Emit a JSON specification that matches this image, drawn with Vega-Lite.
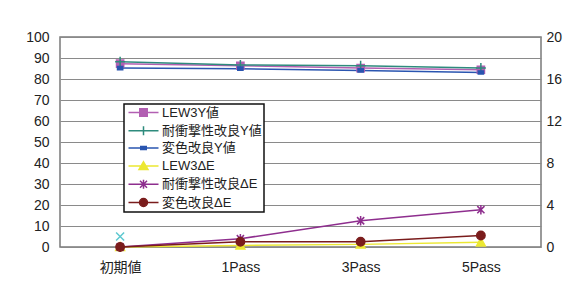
{
  "$schema": "https://vega.github.io/schema/vega-lite/v6.json",
  "width": 481,
  "height": 210,
  "autosize": {"type": "none"},
  "padding": {"left": 60, "top": 37, "right": 43, "bottom": 41},
  "background": "#ffffff",
  "config": {
    "font": "Liberation Sans, Noto Sans CJK JP",
    "view": {"stroke": "#7a7a7a", "strokeWidth": 1.5}
  },
  "data": {
    "values": [
      {"pass": "初期値", "series": "LEW3Y値", "axis": "L", "value": 87.3},
      {"pass": "1Pass", "series": "LEW3Y値", "axis": "L", "value": 86.3},
      {"pass": "3Pass", "series": "LEW3Y値", "axis": "L", "value": 85.2},
      {"pass": "5Pass", "series": "LEW3Y値", "axis": "L", "value": 84.4},
      {"pass": "初期値", "series": "耐衝撃性改良Y値", "axis": "L", "value": 88.2},
      {"pass": "1Pass", "series": "耐衝撃性改良Y値", "axis": "L", "value": 86.7},
      {"pass": "3Pass", "series": "耐衝撃性改良Y値", "axis": "L", "value": 86.3},
      {"pass": "5Pass", "series": "耐衝撃性改良Y値", "axis": "L", "value": 85.2},
      {"pass": "初期値", "series": "変色改良Y値", "axis": "L", "value": 85.2},
      {"pass": "1Pass", "series": "変色改良Y値", "axis": "L", "value": 84.9},
      {"pass": "3Pass", "series": "変色改良Y値", "axis": "L", "value": 84.1},
      {"pass": "5Pass", "series": "変色改良Y値", "axis": "L", "value": 83.1},
      {"pass": "初期値", "series": "LEW3ΔE", "axis": "R", "value": 0},
      {"pass": "1Pass", "series": "LEW3ΔE", "axis": "R", "value": 0.15},
      {"pass": "3Pass", "series": "LEW3ΔE", "axis": "R", "value": 0.25},
      {"pass": "5Pass", "series": "LEW3ΔE", "axis": "R", "value": 0.45},
      {"pass": "初期値", "series": "耐衝撃性改良ΔE", "axis": "R", "value": 0},
      {"pass": "1Pass", "series": "耐衝撃性改良ΔE", "axis": "R", "value": 0.79},
      {"pass": "3Pass", "series": "耐衝撃性改良ΔE", "axis": "R", "value": 2.5},
      {"pass": "5Pass", "series": "耐衝撃性改良ΔE", "axis": "R", "value": 3.55},
      {"pass": "初期値", "series": "変色改良ΔE", "axis": "R", "value": 0},
      {"pass": "1Pass", "series": "変色改良ΔE", "axis": "R", "value": 0.5},
      {"pass": "3Pass", "series": "変色改良ΔE", "axis": "R", "value": 0.5},
      {"pass": "5Pass", "series": "変色改良ΔE", "axis": "R", "value": 1.1},
      {"pass": "初期値", "series": "extra", "axis": "R", "value": 1.0}
    ]
  },
  "encoding": {
    "x": {
      "field": "pass",
      "type": "nominal",
      "sort": ["初期値", "1Pass", "3Pass", "5Pass"],
      "scale": {"type": "point", "padding": 0.5},
      "axis": {"title": null, "labelAngle": 0, "ticks": false, "domain": false, "grid": false, "labelFontSize": 14, "labelPadding": 13, "labelColor": "#222222"}
    },
    "color": {
      "field": "series",
      "type": "nominal",
      "scale": {
        "domain": ["LEW3Y値", "耐衝撃性改良Y値", "変色改良Y値", "LEW3ΔE", "耐衝撃性改良ΔE", "変色改良ΔE"],
        "range": ["#b25fb2", "#2e8b7d", "#2a55b0", "#ece832", "#8e2e8e", "#7a1c1c"]
      },
      "legend": {
        "orient": "none",
        "legendX": 64,
        "legendY": 67,
        "title": null,
        "strokeColor": "#111111",
        "fillColor": "#ffffff",
        "padding": 2,
        "rowPadding": 3.2,
        "symbolSize": 100,
        "symbolOffset": 11,
        "labelOffset": 12,
        "labelFont": "Liberation Sans, Noto Sans CJK JP",
        "labelFontSize": 13,
        "labelColor": "#222222",
        "symbolStrokeWidth": 1.5,
        "encode": {
          "legend": {"update": {"strokeWidth": {"value": 1.5}}},
          "symbols": {
            "update": {
              "shape": {"signal": "['M-3,0H3M-0.75,-0.75H0.75V0.75H-0.75Z','M-3,0H3M0,-0.9V0.9','M-3,0H3M-0.55,-0.3H0.55V0.3H-0.55Z','M-3,0H3M0,-0.85L0.9,0.7H-0.9Z','M-3,0H3M-0.7,-0.7L0.7,0.7M-0.7,0.7L0.7,-0.7M0,-0.9V0.9','M-3,0H3M-0.8,0A0.8,0.8 0 1,0 0.8,0A0.8,0.8 0 1,0 -0.8,0Z'][indexof(['LEW3Y値','耐衝撃性改良Y値','変色改良Y値','LEW3ΔE','耐衝撃性改良ΔE','変色改良ΔE'], datum.value)]"},
              "stroke": {"scale": "color", "field": "value"},
              "fill": {"scale": "color", "field": "value"},
              "strokeWidth": {"value": 1.5},
              "opacity": {"value": 1}
            }
          }
        }
      }
    }
  },
  "layer": [
    {
      "transform": [{"filter": "datum.axis === 'L'"}],
      "encoding": {
        "y": {
          "field": "value",
          "type": "quantitative",
          "scale": {"domain": [0, 100], "nice": false},
          "axis": {"orient": "left", "title": null, "values": [0, 10, 20, 30, 40, 50, 60, 70, 80, 90, 100], "grid": true, "gridColor": "#8a8a8a", "gridOpacity": 1, "gridWidth": 1, "ticks": false, "domain": false, "labelFontSize": 14, "labelPadding": 11, "labelColor": "#222222"}
        }
      },
      "layer": [
        {"mark": {"type": "line", "strokeWidth": 1.5}},
        {
          "transform": [{"filter": "datum.series === 'LEW3Y値'"}],
          "mark": {"type": "point", "filled": true, "size": 64, "opacity": 1, "strokeWidth": 1.5, "stroke": "#b25fb2", "shape": "M-0.9,-0.9H0.9V0.9H-0.9Z"}
        },
        {
          "transform": [{"filter": "datum.series === '耐衝撃性改良Y値'"}],
          "mark": {"type": "point", "filled": true, "size": 64, "opacity": 1, "strokeWidth": 1.5, "stroke": "#2e8b7d", "shape": "M0,-1.25V1.25M-1.25,0H1.25"}
        },
        {
          "transform": [{"filter": "datum.series === '変色改良Y値'"}],
          "mark": {"type": "point", "filled": true, "size": 64, "opacity": 1, "strokeWidth": 1.5, "stroke": "#2a55b0", "shape": "M-0.65,-0.4H0.65V0.4H-0.65Z"}
        }
      ]
    },
    {
      "transform": [{"filter": "datum.axis === 'R'"}],
      "encoding": {
        "y": {
          "field": "value",
          "type": "quantitative",
          "scale": {"domain": [0, 20], "nice": false},
          "axis": {"orient": "right", "title": null, "values": [0, 4, 8, 12, 16, 20], "grid": false, "ticks": false, "domain": false, "labelFontSize": 14, "labelPadding": 5, "labelColor": "#222222"}
        }
      },
      "layer": [
        {"transform": [{"filter": "datum.series !== 'extra'"}], "mark": {"type": "line", "strokeWidth": 1.5}},
        {
          "transform": [{"filter": "datum.series === 'LEW3ΔE'"}],
          "mark": {"type": "point", "filled": true, "size": 64, "opacity": 1, "strokeWidth": 1.5, "stroke": "#ece832", "shape": "M0,-1.1L1.1,0.9H-1.1Z"}
        },
        {
          "transform": [{"filter": "datum.series === '耐衝撃性改良ΔE'"}],
          "mark": {"type": "point", "filled": true, "size": 64, "opacity": 1, "strokeWidth": 1.5, "stroke": "#8e2e8e", "shape": "M-0.9,-0.9L0.9,0.9M-0.9,0.9L0.9,-0.9M0,-1.2V1.2"}
        },
        {
          "transform": [{"filter": "datum.series === '変色改良ΔE'"}],
          "mark": {"type": "point", "filled": true, "size": 64, "opacity": 1, "strokeWidth": 1.5, "stroke": "#7a1c1c", "shape": "M-1.05,0A1.05,1.05 0 1,0 1.05,0A1.05,1.05 0 1,0 -1.05,0Z"}
        },
        {
          "transform": [{"filter": "datum.series === 'extra'"}],
          "mark": {"type": "point", "filled": false, "size": 64, "opacity": 1, "strokeWidth": 1.5, "shape": "M-1,-1L1,1M-1,1L1,-1"},
          "encoding": {"color": {"value": "#5cc8d0"}}
        }
      ]
    }
  ],
  "resolve": {"scale": {"y": "independent"}}
}
